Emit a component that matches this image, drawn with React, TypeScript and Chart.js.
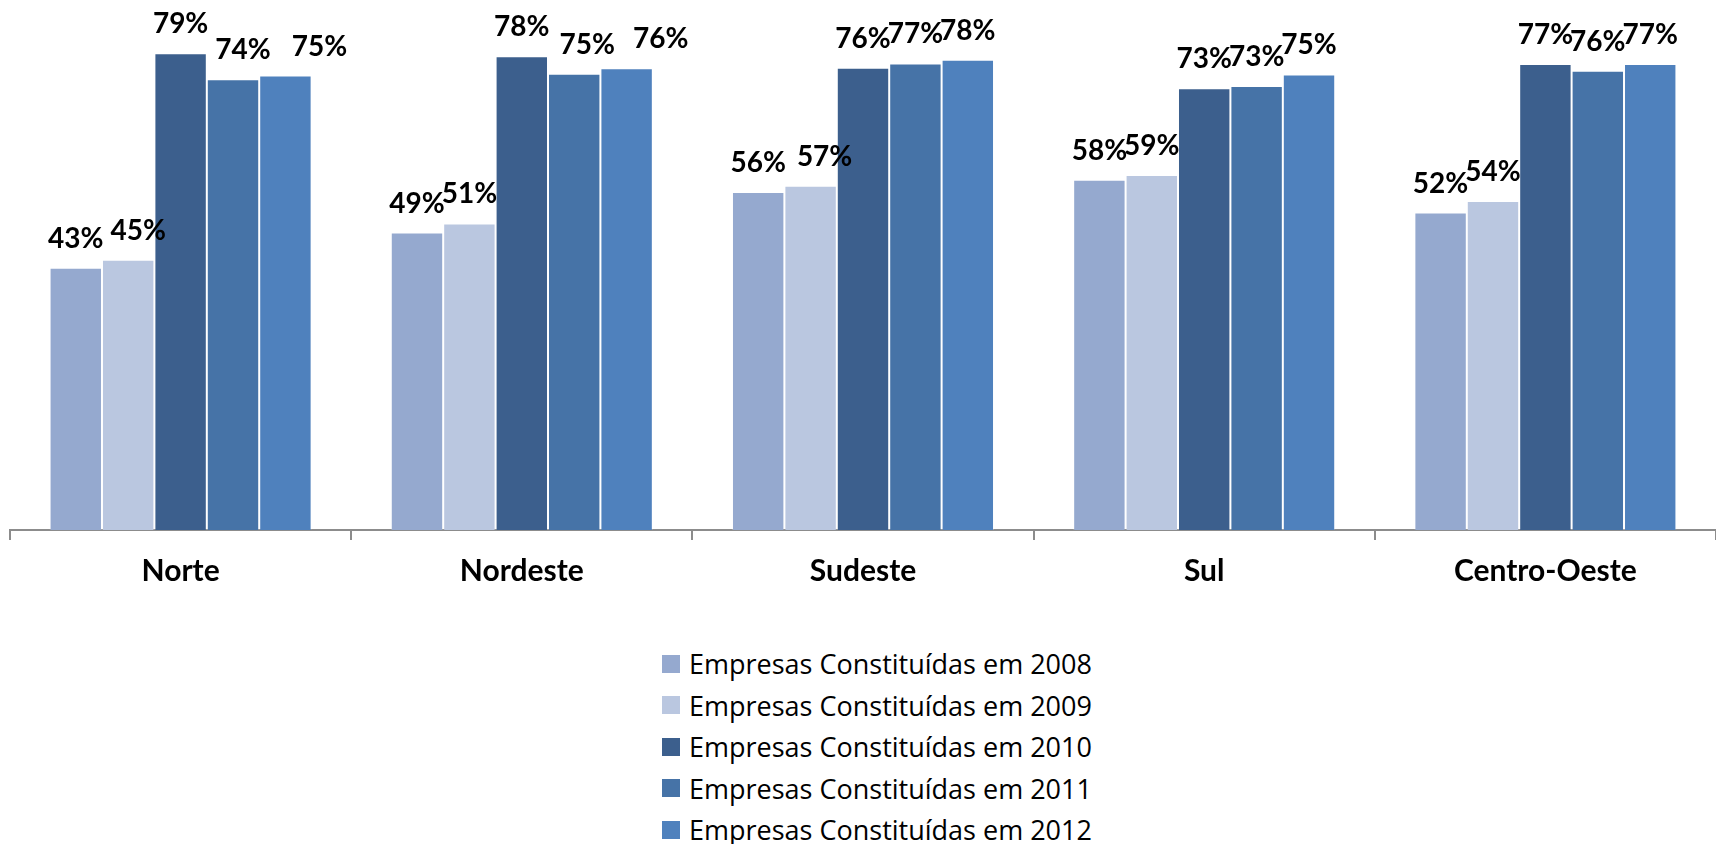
import React, { useEffect, useRef } from "react";
import { Chart, registerables } from "chart.js";

Chart.register(...registerables);

const CATEGORIES = ["Norte", "Nordeste", "Sudeste", "Sul", "Centro-Oeste"];
const SERIES_LABELS = [
  "Empresas Constituídas em 2008",
  "Empresas Constituídas em 2009",
  "Empresas Constituídas em 2010",
  "Empresas Constituídas em 2011",
  "Empresas Constituídas em 2012",
];
const V2008 = [43.3, 49.1, 55.8, 57.8, 52.4];
const V2009 = [44.6, 50.6, 56.8, 58.6, 54.3];
const V2010 = [78.7, 78.2, 76.3, 72.9, 76.9];
const V2011 = [74.4, 75.3, 77.0, 73.3, 75.8];
const V2012 = [75.0, 76.2, 77.6, 75.2, 76.9];
const SERIES_VALUES = [V2008, V2009, V2010, V2011, V2012];
const COLORS = ["#95A9CF", "#BAC7E0", "#3C5F8D", "#4673A7", "#4F81BD"];

// Manual horizontal nudges of the value labels (style), per series, per category
const LABEL_NUDGE_X = [
  [0, 0, 0, 0, 0],
  [10, 0, 14, 0, 0],
  [0, 0, 0, 0, 0],
  [10, 13, 0, 0, 0],
  [34, 34, 0, 0, 0],
];

const FONT = "Lato, 'Open Sans', sans-serif";
const LEGEND_FONT = "'Open Sans', Lato, sans-serif";

const valueLabels = {
  id: "valueLabels",
  afterDatasetsDraw(chart: any) {
    const ctx = chart.ctx;
    ctx.save();
    ctx.font = `bold 28px ${FONT}`;
    ctx.fillStyle = "#000";
    ctx.textAlign = "center";
    ctx.textBaseline = "alphabetic";
    chart.data.datasets.forEach((ds: any, i: number) => {
      const meta = chart.getDatasetMeta(i);
      meta.data.forEach((bar: any, j: number) => {
        const v = Math.round(ds.data[j]);
        ctx.fillText(`${v}%`, bar.x + LABEL_NUDGE_X[i][j], bar.y - 20);
      });
    });
    ctx.restore();
  },
};

export default function App() {
  const ref = useRef<HTMLCanvasElement>(null);

  useEffect(() => {
    if (!ref.current) return;
    const chart = new Chart(ref.current, {
      type: "bar",
      data: {
        labels: CATEGORIES,
        datasets: SERIES_VALUES.map((vals, i) => ({
          label: SERIES_LABELS[i],
          data: vals,
          backgroundColor: COLORS[i],
          borderColor: "rgba(255,255,255,0.2)",
          borderWidth: 1,
          categoryPercentage: 0.768,
          barPercentage: 1.0,
        })),
      },
      options: {
        animation: false,
        responsive: false,
        maintainAspectRatio: false,
        layout: { padding: { top: 15, left: 10, right: 0, bottom: 0 } },
        plugins: {
          legend: { display: false },
          tooltip: { enabled: false },
        },
        scales: {
          x: {
            grid: {
              display: true,
              drawOnChartArea: false,
              drawTicks: true,
              tickLength: 10,
              offset: true,
              color: "#8c8c8c",
              lineWidth: 2,
            },
            border: { display: true, color: "#8c8c8c", width: 2 },
            ticks: {
              color: "#000",
              padding: 13,
              font: { family: FONT, size: 30, weight: "bold" },
            },
            afterFit: (scale: any) => {
              scale.height = 70;
            },
          },
          y: {
            display: false,
            min: 0,
            max: 85,
          },
        },
      },
      plugins: [valueLabels],
    });
    return () => chart.destroy();
  }, []);

  return (
    <div
      style={{
        position: "fixed",
        left: 0,
        top: 0,
        width: 1716,
        height: 844,
        background: "#fff",
        overflow: "hidden",
      }}
    >
      <canvas ref={ref} width={1716} height={600} style={{ display: "block" }} />
      <div
        style={{
          position: "absolute",
          left: 662,
          top: 643,
          fontFamily: LEGEND_FONT,
          fontSize: 27,
          color: "#000",
        }}
      >
        {SERIES_LABELS.map((label, i) => (
          <div
            key={label}
            style={{ display: "flex", alignItems: "center", height: 41.5 }}
          >
            <span
              style={{
                display: "inline-block",
                width: 18,
                height: 18,
                background: COLORS[i],
                marginRight: 9,
                flex: "none",
              }}
            />
            <span style={{ whiteSpace: "nowrap" }}>{label}</span>
          </div>
        ))}
      </div>
    </div>
  );
}
